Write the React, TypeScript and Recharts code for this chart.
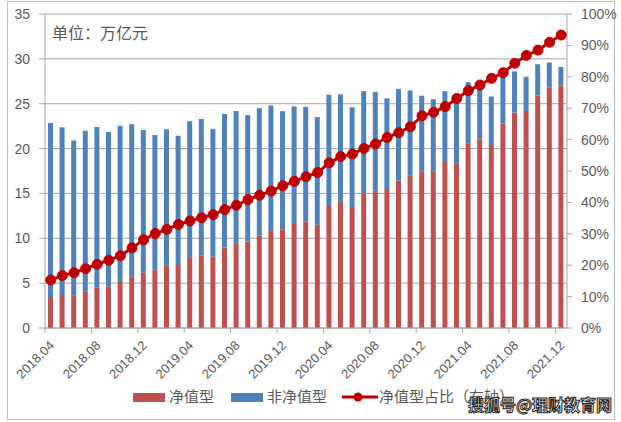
import React from 'react'
import { ComposedChart, Bar, Line, XAxis, YAxis, CartesianGrid, Legend } from 'recharts'

// 月份（2018.04 - 2021.12）
const months = [
  '2018.04', '2018.05', '2018.06', '2018.07', '2018.08', '2018.09', '2018.10', '2018.11', '2018.12',
  '2019.01', '2019.02', '2019.03', '2019.04', '2019.05', '2019.06', '2019.07', '2019.08', '2019.09',
  '2019.10', '2019.11', '2019.12', '2020.01', '2020.02', '2020.03', '2020.04', '2020.05', '2020.06',
  '2020.07', '2020.08', '2020.09', '2020.10', '2020.11', '2020.12', '2021.01', '2021.02', '2021.03',
  '2021.04', '2021.05', '2021.06', '2021.07', '2021.08', '2021.09', '2021.10', '2021.11', '2021.12',
]

// 净值型 (万亿元)
const netValue = [
  3.46, 3.68, 3.6, 4.1, 4.5, 4.65, 5.13, 5.72, 6.17, 6.5, 6.95, 7.03, 7.84, 8.1, 7.96,
  8.96, 9.4, 9.63, 10.3, 10.8, 10.97, 11.6, 11.85, 11.5, 13.6, 14.05, 13.5, 15.0, 15.3, 15.5,
  16.45, 16.97, 17.4, 17.4, 18.5, 18.3, 20.6, 21.0, 20.4, 22.8, 24.0, 24.2, 25.9, 26.8, 27.0,
]

// 非净值型 (万亿元)
const nonNetValue = [
  19.4, 18.7, 17.3, 17.9, 17.9, 17.2, 17.4, 17.0, 15.9, 15.0, 15.2, 14.4, 15.2, 15.2, 14.2,
  14.9, 14.8, 14.1, 14.2, 14.0, 13.2, 13.1, 12.8, 12.0, 12.4, 12.0, 11.1, 11.4, 11.0, 10.1,
  10.2, 9.5, 8.5, 8.1, 7.9, 7.0, 6.8, 6.4, 5.4, 5.3, 4.6, 3.8, 3.5, 2.8, 2.1,
]

// 净值型占比 (%)
const netRatio = [
  15.3, 16.7, 17.6, 18.9, 20.3, 21.6, 23.0, 25.5, 28.1, 30.1, 31.4, 33.0, 34.1, 35.1, 36.1,
  37.7, 39.1, 40.9, 42.3, 43.6, 45.3, 46.7, 48.2, 49.5, 52.6, 54.6, 55.4, 57.2, 58.6, 60.7,
  62.2, 64.1, 67.6, 68.7, 70.5, 73.1, 75.6, 77.4, 79.5, 81.3, 84.3, 86.8, 88.5, 91.0, 93.3,
]

const leftTicks = [0, 5, 10, 15, 20, 25, 30, 35]
const rightTicks = [0, 10, 20, 30, 40, 50, 60, 70, 80, 90, 100]

const data = months.map((m, i) => ({
  month: m,
  net: netValue[i],
  nonNet: nonNetValue[i],
  ratio: netRatio[i],
}))

const textColor = '#595959'
const gridColor = '#a6a6a6'
const font = '"Liberation Sans", "Noto Sans CJK SC", sans-serif'
const bandHalf = 522 / months.length / 2

const MonthTick = (props: any) => {
  const { x, y, payload } = props
  const bx = x - bandHalf
  return (
    <g>
      <line x1={bx} y1={y} x2={bx} y2={y + 5} stroke={gridColor} />
      <text
        x={x + 1}
        y={y + 15}
        transform={`rotate(-45, ${x + 1}, ${y + 15})`}
        textAnchor="end"
        dy="0.35em"
        fontSize={13}
        fill={textColor}
        fontFamily={font}
      >
        {payload.value}
      </text>
    </g>
  )
}

const LegendBox = () => (
  <div style={{ position: 'relative', width: 621, height: 20, fontFamily: font, fontSize: 15, color: textColor }}>
    <span style={{ position: 'absolute', left: 133, top: 6, width: 32, height: 9, background: '#C0504D' }} />
    <span style={{ position: 'absolute', left: 169, top: 0, lineHeight: '20px' }}>净值型</span>
    <span style={{ position: 'absolute', left: 231, top: 6, width: 32, height: 9, background: '#4F81BD' }} />
    <span style={{ position: 'absolute', left: 267, top: 0, lineHeight: '20px' }}>非净值型</span>
    <svg style={{ position: 'absolute', left: 342, top: 0 }} width={36} height={20}>
      <line x1={0} y1={10} x2={36} y2={10} stroke="#C00000" strokeWidth={3} />
      <circle cx={16} cy={10} r={4.5} fill="#C00000" />
    </svg>
    <span style={{ position: 'absolute', left: 379, top: 0, lineHeight: '20px', whiteSpace: 'nowrap' }}>净值型占比（右轴）</span>
  </div>
)

export default function App() {
  return (
    <div style={{ position: 'absolute', left: 0, top: 0, width: 621, height: 422, background: '#fff' }}>
      <div
        style={{
          position: 'absolute', left: 7, top: 1, width: 606, height: 417,
          border: '1px solid #bfbfbf',
        }}
      />
      <ComposedChart
        width={621}
        height={422}
        data={data}
        margin={{ top: 14, right: 4, bottom: 34, left: 5 }}
      >
        <CartesianGrid yAxisId="left" vertical={false} stroke={gridColor} />
        <XAxis
          dataKey="month"
          interval={3}
          height={60}
          tickLine={false}
          tickSize={0}
          tickMargin={0}
          axisLine={{ stroke: gridColor }}
          tick={<MonthTick />}
        />
        <YAxis
          yAxisId="left"
          domain={[0, 35]}
          ticks={leftTicks}
          width={40}
          tickSize={6}
          tickMargin={9}
          axisLine={{ stroke: gridColor }}
          tickLine={{ stroke: gridColor }}
          tick={{ fontSize: 14, fill: textColor, fontFamily: font }}
        />
        <YAxis
          yAxisId="right"
          orientation="right"
          domain={[0, 100]}
          ticks={rightTicks}
          width={50}
          tickSize={5}
          tickMargin={9}
          tickFormatter={(v: number) => `${v}%`}
          axisLine={{ stroke: gridColor }}
          tickLine={{ stroke: gridColor }}
          tick={{ fontSize: 14, fill: textColor, fontFamily: font, textAnchor: 'start' }}
        />
        <Bar yAxisId="left" dataKey="net" name="净值型" stackId="a" fill="#C0504D" barSize={5} isAnimationActive={false} />
        <Bar yAxisId="left" dataKey="nonNet" name="非净值型" stackId="a" fill="#4F81BD" barSize={5} isAnimationActive={false} />
        <Line
          yAxisId="right"
          dataKey="ratio"
          name="净值型占比（右轴）"
          stroke="#C00000"
          strokeWidth={3}
          dot={{ r: 5, fill: '#C00000', stroke: '#C00000', strokeWidth: 1 }}
          isAnimationActive={false}
        />
        <Legend
          layout="horizontal"
          verticalAlign="middle"
          align="center"
          wrapperStyle={{ top: 387, left: 0, width: 621, height: 20 }}
          content={() => <LegendBox />}
        />
      </ComposedChart>
      <div
        style={{
          position: 'absolute', left: 52, top: 20, fontSize: 16, color: textColor,
          fontFamily: font,
        }}
      >
        单位：万亿元
      </div>
      <div
        style={{
          position: 'absolute', left: 468, top: 394, fontSize: 16, fontWeight: 'bold',
          color: '#fff', fontFamily: '"Noto Sans CJK SC", sans-serif', whiteSpace: 'nowrap',
          WebkitTextStroke: '1px #222', lineHeight: '20px',
        }}
      >
        搜狐号@理财教育网
      </div>
    </div>
  )
}
